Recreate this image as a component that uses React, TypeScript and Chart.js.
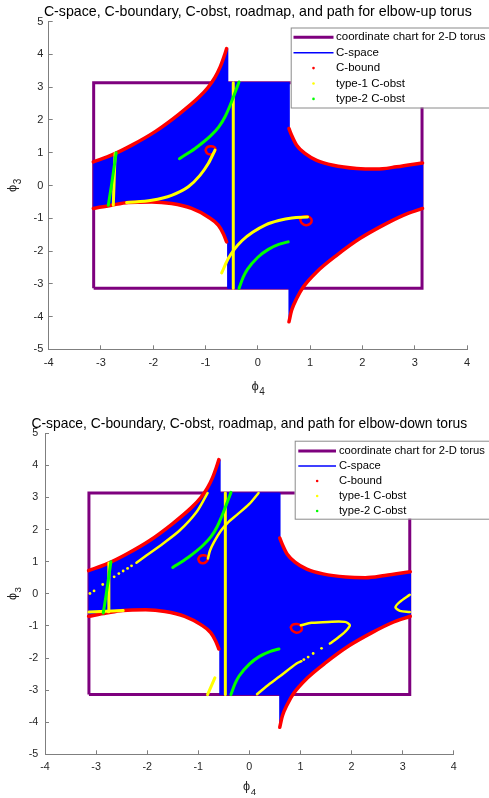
import React, { useEffect, useRef } from 'react';
import { Chart, registerables } from 'chart.js';

Chart.register(...registerables);

type P = [number, number];

const FONT = '"Liberation Sans", Arial, Helvetica, sans-serif';

const TITLES = [
  'C-space, C-boundary, C-obst, roadmap, and path for elbow-up torus',
  'C-space, C-boundary, C-obst, roadmap, and path for elbow-down torus',
];
const X_LABEL = ['ϕ', '4'];
const Y_LABEL = ['ϕ', '3'];
const LEGEND_LABELS = ['coordinate chart for 2-D torus', 'C-space', 'C-bound', 'type-1 C-obst', 'type-2 C-obst'];

// coordinate chart (torus square)
const TORUS_RECT: P[] = [[-3.14, -3.14], [-3.14, 3.14], [3.14, 3.14], [3.14, -3.14], [-3.14, -3.14]];

// C-boundary curves
const UPPER_LEFT: P[] = [
  [-3.147, 0.72], [-2.78, 0.94], [-2.4, 1.24], [-1.95, 1.66], [-1.507, 2.18], [-1.124, 2.7],
  [-0.95, 3.0], [-0.82, 3.3], [-0.72, 3.62], [-0.65, 3.92], [-0.597, 4.18],
];
const LOWER_LEFT: P[] = [
  [-3.147, -0.7], [-2.8, -0.6], [-2.478, -0.52], [-2.03, -0.5], [-1.65, -0.55], [-1.266, -0.7],
  [-0.95, -0.96], [-0.757, -1.21], [-0.66, -1.47], [-0.597, -1.72],
];
const UPPER_RIGHT: P[] = [
  [0.595, 1.74], [0.646, 1.535], [0.742, 1.23], [0.9, 0.98], [1.124, 0.77], [1.44, 0.62],
  [1.889, 0.52], [2.27, 0.5], [2.654, 0.57], [3.15, 0.69],
];
const LOWER_RIGHT: P[] = [
  [0.595, -4.16], [0.646, -3.81], [0.742, -3.45], [0.868, -3.1], [1.124, -2.64], [1.507, -2.13],
  [1.95, -1.62], [2.4, -1.21], [2.78, -0.91], [3.15, -0.7],
];
const LOOP_UPPER: P[] = [
  [-1.0, 1.08], [-0.97, 1.17], [-0.9, 1.2], [-0.83, 1.17], [-0.81, 1.1], [-0.84, 1.0],
  [-0.9, 0.95], [-0.97, 0.98], [-1.0, 1.08],
];
const LOOP_LOWER: P[] = [
  [0.81, -1.04], [0.85, -0.96], [0.93, -0.94], [1.0, -0.98], [1.03, -1.07], [1.0, -1.17],
  [0.92, -1.21], [0.84, -1.15], [0.81, -1.04],
];
// steps of the C-space region between the boundary curves
const CSPACE_TOP_STEP: P[] = [[-0.578, 4.18], [-0.578, 3.14], [0.595, 3.14]];
const CSPACE_BOTTOM_STEP: P[] = [[0.595, -3.14], [-0.578, -3.14], [-0.578, -1.72]];

// type-2 C-obst (both tori)
const G_LEFT: P[] = [[-2.86, -0.6], [-2.8, 0.0], [-2.71, 1.0]];
const G_UPPER: P[] = [
  [-1.5, 0.82], [-1.2, 1.13], [-0.9, 1.52], [-0.75, 1.78], [-0.63, 2.09], [-0.53, 2.45], [-0.45, 2.78], [-0.36, 3.16],
];
const G_LOWER: P[] = [[-0.36, -3.14], [-0.28, -2.8], [-0.2, -2.56], [0.0, -2.19], [0.2, -1.95], [0.4, -1.8], [0.58, -1.72]];

// type-1 C-obst, common
const Y_VERT: P[] = [[-0.47, 3.14], [-0.47, -3.14]];

// type-1 C-obst, elbow-up
const UP_Y_LEFT: P[] = [[-2.765, -0.6], [-2.73, 0.98]];
const UP_Y_UPPER: P[] = [
  [-2.51, -0.52], [-2.03, -0.45], [-1.65, -0.3], [-1.33, -0.04], [-1.107, 0.31], [-0.948, 0.67], [-0.82, 1.08],
];
const UP_Y_LOWER: P[] = [
  [-0.692, -2.67], [-0.566, -2.23], [-0.45, -1.95], [-0.3, -1.68], [-0.1, -1.43], [0.15, -1.2], [0.4, -1.07],
  [0.65, -0.99], [0.95, -0.96],
];

// type-1 C-obst, elbow-down
const DN_Y_LEFT: P[] = [[-2.76, -0.56], [-2.75, 0.96]];
const DN_Y_HORIZ: P[] = [[-3.14, -0.57], [-2.47, -0.52]];
const DN_Y_UL: P[] = [[-0.818, 3.14], [-1.034, 2.55], [-1.36, 1.98], [-1.687, 1.57], [-2.01, 1.2], [-2.21, 0.97]];
const DN_Y_UL_DOTS: P[] = [
  [-2.306, 0.87], [-2.384, 0.79], [-2.47, 0.71], [-2.554, 0.63], [-2.646, 0.53], [-2.87, 0.29], [-3.04, 0.09], [-3.12, 0.01],
];
const DN_Y_CENTER: P[] = [[-0.81, 1.1], [-0.77, 1.35], [-0.69, 1.62], [-0.55, 1.98], [-0.42, 2.22], [-0.25, 2.45], [0.0, 2.8], [0.18, 3.14]];
const DN_Y_SHORT: P[] = [[-0.818, -3.14], [-0.675, -2.62]];
const DN_Y_HOOK: P[] = [
  [1.008, -0.98], [1.217, -0.905], [1.543, -0.875], [1.87, -0.875], [1.967, -0.98], [1.87, -1.19], [1.74, -1.36], [1.576, -1.55],
];
const DN_Y_HOOK_DOTS: P[] = [[1.413, -1.7], [1.249, -1.86], [1.151, -1.97], [1.067, -2.05]];
const DN_Y_DIAG: P[] = [[1.02, -2.1], [0.924, -2.17], [0.597, -2.57], [0.337, -2.88], [0.15, -3.13]];
const DN_Y_EDGE: P[] = [[3.14, -0.03], [2.946, -0.25], [2.86, -0.42], [2.946, -0.53], [3.14, -0.57]];

const PURPLE = '#7e007e';
const BLUE = '#0000ff';
const RED = '#ff0000';
const YELLOW = '#ffff00';
const GREEN = '#00ff00';

const pts = (a: P[]) => a.map(([x, y]) => ({ x, y }));

const lineDs = (data: P[], color: string, width: number, order: number, tension = 0.3) => ({
  data: pts(data),
  showLine: true,
  borderColor: color,
  backgroundColor: color,
  borderWidth: width,
  pointRadius: 0,
  tension,
  fill: false,
  order,
  borderCapStyle: 'round',
  borderJoinStyle: 'round',
});

const monoDs = (data: P[], color: string, width: number, order: number) => ({
  ...lineDs(data, color, width, order, 0.4),
  cubicInterpolationMode: 'monotone',
});

const dotDs = (data: P[], color: string, r: number, order: number) => ({
  data: pts(data),
  showLine: false,
  pointRadius: r,
  pointBackgroundColor: color,
  pointBorderWidth: 0,
  order,
});

const CSPACE_POLY: P[] = [
  ...UPPER_LEFT,
  ...CSPACE_TOP_STEP,
  ...UPPER_RIGHT,
  ...[...LOWER_RIGHT].reverse(),
  ...CSPACE_BOTTOM_STEP,
  ...[...LOWER_LEFT].reverse(),
];

function commonDatasets() {
  return [
    { ...lineDs(TORUS_RECT, PURPLE, 3, 10, 0), borderJoinStyle: 'miter', borderCapStyle: 'butt' },
    { ...lineDs(CSPACE_POLY, BLUE, 1, 9, 0), fill: 'shape', backgroundColor: BLUE },
    monoDs(UPPER_LEFT, RED, 3.5, 5),
    monoDs(LOWER_LEFT, RED, 3.5, 5),
    monoDs(UPPER_RIGHT, RED, 3.5, 5),
    monoDs(LOWER_RIGHT, RED, 3.5, 5),
    lineDs(LOOP_UPPER, RED, 2.5, 5, 0.4),
    lineDs(LOOP_LOWER, RED, 2.5, 5, 0.4),
    lineDs(Y_VERT, YELLOW, 3, 3, 0),
    lineDs(G_LEFT, GREEN, 3, 2),
    monoDs(G_UPPER, GREEN, 3, 2),
    monoDs(G_LOWER, GREEN, 3, 2),
  ];
}

function upDatasets() {
  return [
    ...commonDatasets(),
    lineDs(UP_Y_LEFT, YELLOW, 3, 3, 0),
    monoDs(UP_Y_UPPER, YELLOW, 3, 3),
    monoDs(UP_Y_LOWER, YELLOW, 3, 3),
  ];
}

function downDatasets() {
  return [
    ...commonDatasets(),
    lineDs(DN_Y_LEFT, YELLOW, 3, 3, 0),
    lineDs(DN_Y_HORIZ, YELLOW, 3, 3, 0),
    lineDs(DN_Y_UL, YELLOW, 2.5, 3),
    dotDs(DN_Y_UL_DOTS, YELLOW, 1.4, 3),
    lineDs(DN_Y_CENTER, YELLOW, 2.5, 3),
    lineDs(DN_Y_SHORT, YELLOW, 3, 3, 0),
    lineDs(DN_Y_HOOK, YELLOW, 2.5, 3),
    dotDs(DN_Y_HOOK_DOTS, YELLOW, 1.4, 3),
    lineDs(DN_Y_DIAG, YELLOW, 2.5, 3),
    lineDs(DN_Y_EDGE, YELLOW, 2.5, 3),
  ];
}

type Cfg = {
  title: string;
  titleY: number;
  scale: number;
  padTop: number;
  padRight: number;
  yW: number;
  xH: number;
  xTickPad: number;
  yTickPad: number;
  xBase: number;
  yBase: number;
  legend: { x: number; y: number; h: number; rowY0: number; rowDy: number; lineX0: number; lineX1: number; textX: number };
  datasets: any[];
};

const LABEL_COLOR = '#262626';
const AXIS_COLOR = '#7f7f7f';

const titlePlugin = {
  id: 'ctitle',
  afterDraw(chart: any, _args: any, opts: any) {
    const { ctx, chartArea } = chart;
    ctx.save();
    ctx.font = `${14.2 * opts.scale}px ${FONT}`;
    ctx.fillStyle = '#000';
    ctx.textAlign = 'center';
    ctx.textBaseline = 'middle';
    ctx.fillText(opts.text, (chartArea.left + chartArea.right) / 2, opts.y);
    ctx.restore();
  },
};

function drawSubLabel(ctx: CanvasRenderingContext2D, parts: string[], cx: number, base: number, k: number) {
  ctx.font = `${13 * k}px ${FONT}`;
  const w1 = ctx.measureText(parts[0]).width;
  ctx.font = `${10 * k}px ${FONT}`;
  const w2 = ctx.measureText(parts[1]).width;
  const x0 = cx - (w1 + w2) / 2;
  ctx.textAlign = 'left';
  ctx.textBaseline = 'alphabetic';
  ctx.font = `${13 * k}px ${FONT}`;
  ctx.fillText(parts[0], x0, base);
  ctx.font = `${10 * k}px ${FONT}`;
  ctx.fillText(parts[1], x0 + w1 + 0.5, base + 5);
}

const axisLabelPlugin = {
  id: 'caxis',
  afterDraw(chart: any, _args: any, opts: any) {
    const { ctx, chartArea } = chart;
    ctx.save();
    ctx.fillStyle = LABEL_COLOR;
    drawSubLabel(ctx, X_LABEL, (chartArea.left + chartArea.right) / 2, opts.xBase, opts.scale);
    ctx.translate(opts.yBase, (chartArea.top + chartArea.bottom) / 2);
    ctx.rotate(-Math.PI / 2);
    drawSubLabel(ctx, Y_LABEL, 0, 0, opts.scale);
    ctx.restore();
  },
};

const legendPlugin = {
  id: 'clegend',
  afterDraw(chart: any, _args: any, opts: any) {
    const { ctx } = chart;
    const L = opts.box;
    ctx.save();
    ctx.fillStyle = '#fff';
    ctx.fillRect(L.x, L.y, chart.width - L.x + 2, L.h);
    ctx.strokeStyle = '#8a8a8a';
    ctx.lineWidth = 1;
    ctx.strokeRect(L.x + 0.5, L.y + 0.5, chart.width - L.x + 2, L.h);
    const styles = [
      { kind: 'line', color: PURPLE, w: 3 },
      { kind: 'line', color: BLUE, w: 1.5 },
      { kind: 'dot', color: RED },
      { kind: 'dot', color: YELLOW },
      { kind: 'dot', color: GREEN },
    ];
    ctx.font = `${11.5 * opts.scale}px ${FONT}`;
    ctx.textAlign = 'left';
    ctx.textBaseline = 'middle';
    LEGEND_LABELS.forEach((label, i) => {
      const y = L.rowY0 + i * L.rowDy;
      const s = styles[i];
      if (s.kind === 'line') {
        ctx.strokeStyle = s.color;
        ctx.lineWidth = s.w;
        ctx.beginPath();
        ctx.moveTo(L.lineX0, y);
        ctx.lineTo(L.lineX1, y);
        ctx.stroke();
      } else {
        ctx.fillStyle = s.color;
        ctx.beginPath();
        ctx.arc((L.lineX0 + L.lineX1) / 2, y, 1.3, 0, Math.PI * 2);
        ctx.fill();
      }
      ctx.fillStyle = '#000';
      ctx.fillText(label, L.textX, y);
    });
    ctx.restore();
  },
};

function TorusChart({ cfg }: { cfg: Cfg }) {
  const ref = useRef<HTMLCanvasElement>(null);
  useEffect(() => {
    const tickFont = { family: FONT, size: 11 * cfg.scale };
    const chart = new Chart(ref.current as HTMLCanvasElement, {
      type: 'scatter',
      data: { datasets: cfg.datasets },
      plugins: [titlePlugin, axisLabelPlugin, legendPlugin],
      options: {
        animation: false,
        responsive: false,
        maintainAspectRatio: false,
        events: [],
        layout: { padding: { top: cfg.padTop, right: cfg.padRight, left: 0, bottom: 0 } },
        plugins: {
          legend: { display: false },
          tooltip: { enabled: false },
          title: { display: false },
          ctitle: { text: cfg.title, y: cfg.titleY, scale: cfg.scale },
          caxis: { xBase: cfg.xBase, yBase: cfg.yBase, scale: cfg.scale },
          clegend: { box: cfg.legend, scale: cfg.scale },
        } as any,
        scales: {
          x: {
            type: 'linear',
            min: -4,
            max: 4,
            ticks: { stepSize: 1, color: LABEL_COLOR, font: tickFont, padding: cfg.xTickPad, maxRotation: 0 },
            grid: { drawOnChartArea: false, drawTicks: true, tickLength: -4, tickColor: AXIS_COLOR },
            border: { display: true, color: AXIS_COLOR, width: 1 },
            title: { display: false },
            afterFit: (s: any) => {
              s.height = cfg.xH;
            },
          },
          y: {
            type: 'linear',
            min: -5,
            max: 5,
            ticks: { stepSize: 1, color: LABEL_COLOR, font: tickFont, padding: cfg.yTickPad },
            grid: { drawOnChartArea: false, drawTicks: true, tickLength: -4, tickColor: AXIS_COLOR },
            border: { display: true, color: AXIS_COLOR, width: 1 },
            title: { display: false },
            afterFit: (s: any) => {
              s.width = cfg.yW;
            },
          },
        },
      } as any,
    });
    return () => chart.destroy();
  }, [cfg]);
  return <canvas ref={ref} width={489} height={399} style={{ display: 'block', width: 489, height: 399 }} />;
}

const UP_CFG: Cfg = {
  title: TITLES[0],
  titleY: 12.3,
  scale: 1,
  padTop: 21.7,
  padRight: 22,
  yW: 48.7,
  xH: 49.7,
  xTickPad: 11.4,
  yTickPad: 9.4,
  xBase: 390,
  yBase: 15.5,
  legend: { x: 290.7, y: 27.5, h: 80, rowY0: 37.3, rowDy: 15.4, lineX0: 293.5, lineX1: 333.5, textX: 336 },
  datasets: upDatasets(),
};

const DOWN_CFG: Cfg = {
  title: TITLES[1],
  titleY: 25,
  scale: 0.977,
  padTop: 34.3,
  padRight: 35.3,
  yW: 45,
  xH: 43.7,
  xTickPad: 9.8,
  yTickPad: 10.7,
  xBase: 391,
  yBase: 15.5,
  legend: { x: 294.7, y: 41.7, h: 78, rowY0: 52, rowDy: 15, lineX0: 298.3, lineX1: 336, textX: 339 },
  datasets: downDatasets(),
};

export default function App() {
  return (
    <div style={{ position: 'absolute', left: 0, top: 0, width: 489, height: 798, background: '#fff' }}>
      <TorusChart cfg={UP_CFG} />
      <TorusChart cfg={DOWN_CFG} />
    </div>
  );
}
